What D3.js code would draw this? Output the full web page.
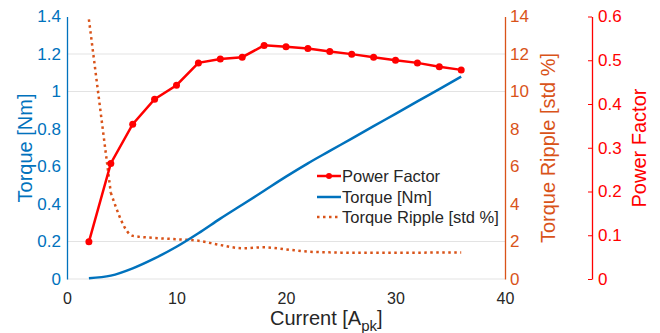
<!DOCTYPE html>
<html><head><meta charset="utf-8">
<script src="https://cdn.jsdelivr.net/npm/d3@7/dist/d3.min.js"></script>
<style>
html,body{margin:0;padding:0;background:#fff;}
svg{display:block;font-family:"Liberation Sans",Arial,sans-serif;}
</style></head>
<body>
<svg id="chart" width="660" height="333"></svg>
<script>
// ---- data ----
const current = [2,4,6,8,10,12,14,16,18,20,22,24,26,28,30,32,34,36];
const powerFactor = [0.085,0.264,0.354,0.411,0.443,0.494,0.503,0.507,0.534,0.531,0.527,0.520,0.514,0.507,0.500,0.494,0.485,0.478];
const torque = [0.004,0.018,0.057,0.110,0.172,0.244,0.322,0.396,0.471,0.546,0.617,0.683,0.749,0.815,0.881,0.947,1.013,1.079];
const ripple = [13.85,4.6,2.30,2.19,2.12,2.04,1.81,1.64,1.69,1.58,1.46,1.42,1.40,1.40,1.40,1.40,1.42,1.42];
const xTicks = [0,10,20,30,40];
const torqueTicks = [0,0.2,0.4,0.6,0.8,1,1.2,1.4];
const rippleTicks = [0,2,4,6,8,10,12,14];
const pfTicks = [0,0.1,0.2,0.3,0.4,0.5,0.6];
const gridTorque = [0,0.2,1.0,1.2];
const legendItems = ["Power Factor","Torque [Nm]","Torque Ripple [std %]"];

const BLUE="#0072BD", ORANGE="#D95319", RED="#FF0000", DARK="#262626";
const L=67, R=505, T=16.5, B=279;
const FONT="Liberation Sans, Arial, sans-serif";

const svg = d3.select("#chart");
const x = d3.scaleLinear().domain([0,40]).range([L,R]);
const yT = d3.scaleLinear().domain([0,1.4]).range([B,T]);
const yR = d3.scaleLinear().domain([0,14]).range([B,T]);
const yP = d3.scaleLinear().domain([0,0.6]).range([B,T]);

// grid
svg.append("g").selectAll("line").data(gridTorque).join("line")
  .attr("x1",L).attr("x2",R).attr("y1",d=>yT(d)).attr("y2",d=>yT(d))
  .attr("stroke","#e3e3e3").attr("stroke-width",1.2);

// x axis
const gx = svg.append("g").attr("transform",`translate(0,${B})`)
  .call(d3.axisBottom(x).tickValues(xTicks).tickFormat(d3.format("d")).tickSize(0).tickPadding(14));
gx.select(".domain").remove();
gx.selectAll("text").attr("fill",DARK).style("font-size","16px").style("font-family",FONT);

// left axis
const gl = svg.append("g").attr("transform",`translate(${L},0)`)
  .call(d3.axisLeft(yT).tickValues(torqueTicks).tickFormat(d=>String(+d.toFixed(1))).tickSize(0).tickPadding(6));
gl.select(".domain").attr("stroke",BLUE).attr("stroke-width",1.3);
gl.selectAll("text").attr("fill",BLUE).style("font-size","17px").style("font-family",FONT);

// ripple axis
const gr = svg.append("g").attr("transform",`translate(${R},0)`)
  .call(d3.axisRight(yR).tickValues(rippleTicks).tickSize(0).tickPadding(5));
gr.select(".domain").attr("stroke",ORANGE).attr("stroke-width",1.3);
gr.selectAll("text").attr("fill",ORANGE).style("font-size","17px").style("font-family",FONT);

// pf axis
const gp = svg.append("g").attr("transform",`translate(592,0)`)
  .call(d3.axisRight(yP).tickValues(pfTicks).tickFormat(d=>String(+d.toFixed(1))).tickSizeInner(-4).tickSizeOuter(0).tickPadding(6));
gp.select(".domain").attr("stroke",RED).attr("stroke-width",1.3);
gp.selectAll(".tick line").attr("stroke",RED);
gp.selectAll("text").attr("fill",RED).style("font-size","17px").style("font-family",FONT);

// axis labels
svg.append("text").attr("transform",`translate(32,148) rotate(-90)`).attr("text-anchor","middle")
  .attr("fill",BLUE).style("font-size","20px").text("Torque [Nm]");
svg.append("text").attr("transform",`translate(555,148) rotate(-90)`).attr("text-anchor","middle")
  .attr("fill",ORANGE).style("font-size","20px").text("Torque Ripple [std %]");
svg.append("text").attr("transform",`translate(646,148) rotate(-90)`).attr("text-anchor","middle")
  .attr("fill",RED).style("font-size","20px").text("Power Factor");
const xl = svg.append("text").attr("x",270).attr("y",325).attr("fill",DARK).style("font-size","20px");
xl.append("tspan").text("Current [A");
xl.append("tspan").attr("dy",6).style("font-size","15px").text("pk");
xl.append("tspan").attr("dy",-6).text("]");

// lines
const idx = d3.range(current.length);
const rippleLine = c => d3.line().x(i=>x(current[i])).y(i=>yR(ripple[i])).curve(c);
svg.append("path").datum(idx.slice(0,2))
  .attr("d",rippleLine(d3.curveLinear))
  .attr("fill","none").attr("stroke",ORANGE).attr("stroke-width",2.5).attr("stroke-dasharray","2.5,3.5");
svg.append("path").datum(idx.slice(1))
  .attr("d",rippleLine(d3.curveMonotoneX))
  .attr("fill","none").attr("stroke",ORANGE).attr("stroke-width",2.5).attr("stroke-dasharray","2.5,3.5");
svg.append("path").datum(idx)
  .attr("d",d3.line().x(i=>x(current[i])).y(i=>yT(torque[i])).curve(d3.curveMonotoneX))
  .attr("fill","none").attr("stroke",BLUE).attr("stroke-width",2.5);
svg.append("path").datum(idx)
  .attr("d",d3.line().x(i=>x(current[i])).y(i=>yP(powerFactor[i])))
  .attr("fill","none").attr("stroke",RED).attr("stroke-width",2.5);
svg.append("g").selectAll("circle").data(idx).join("circle")
  .attr("cx",i=>x(current[i])).attr("cy",i=>yP(powerFactor[i])).attr("r",3.5).attr("fill",RED);

// legend
const lg = svg.append("g");
const rowY = [176,197,217];
const styles = [
  {c:RED,dash:null,marker:true},
  {c:BLUE,dash:null,marker:false},
  {c:ORANGE,dash:"2.5,3.5",marker:false}
];
legendItems.forEach((t,k)=>{
  const s=styles[k];
  lg.append("line").attr("x1",317).attr("x2",341).attr("y1",rowY[k]).attr("y2",rowY[k])
    .attr("stroke",s.c).attr("stroke-width",2.5).attr("stroke-dasharray",s.dash);
  if(s.marker) lg.append("circle").attr("cx",329).attr("cy",rowY[k]).attr("r",3).attr("fill",s.c);
  lg.append("text").attr("x",342).attr("y",rowY[k]+6).attr("fill",DARK).style("font-size","16.5px").text(t);
});
</script>
</body></html>
